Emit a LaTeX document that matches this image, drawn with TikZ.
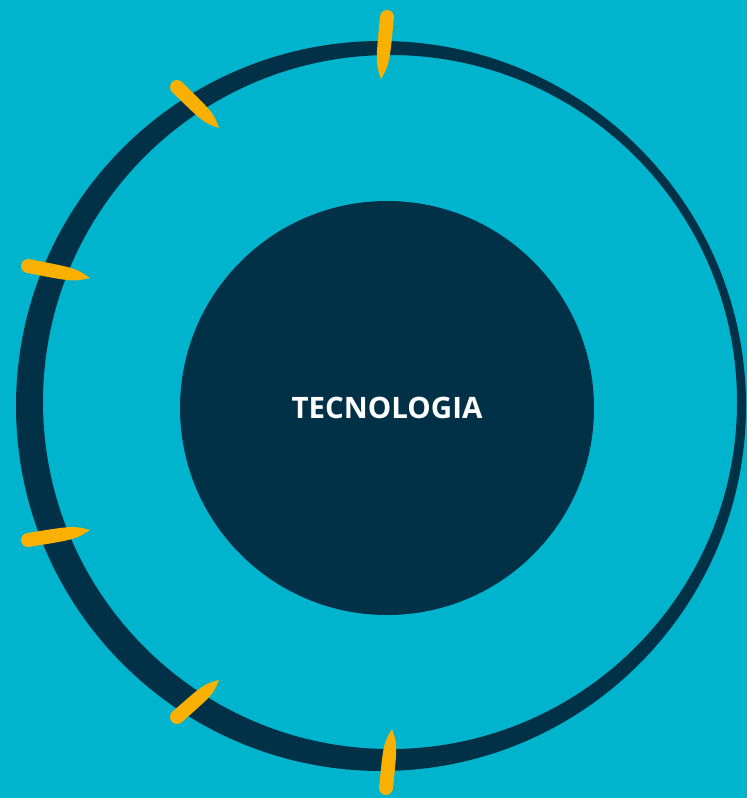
\documentclass[tikz,border=0pt]{standalone}
\usepackage{fontspec}
\newfontfamily\opensans{Open Sans}
\usetikzlibrary{calc}
\definecolor{sea}{RGB}{0,180,206}
\definecolor{ink}{RGB}{0,49,70}
\definecolor{sun}{RGB}{249,176,0}
\tikzset{
  core/.style = {circle, fill=ink, text=white, inner sep=0pt,
    minimum size=414pt, font=\opensans\bfseries\fontsize{29.5}{32}\selectfont},
  ring/.style = {fill=ink, even odd rule},
  brush/.style = {fill=sun}
}
\begin{document}
\begin{tikzpicture}[x=1pt,y=-1pt]
  \useasboundingbox (0,0) rectangle (747,798);
  \fill[sea] (0,0) rectangle (747,798);
  % outer ring, thick on the left and thin on the right
  \fill[ring] (381,406) circle (365pt) (390,402) circle (347pt);
  \node[core] (tech) at (387,408) {TECNOLOGIA};
  % yellow marks on the ring
  \foreach \tx/\ty/\px/\py in {387/17/381/79, 177/87/219/128, 28/266/90/278,
      28/540/90/530, 177/717/219/680, 386/788/392/729}{
    \fill[brush] (\tx,\ty) circle (7pt);
    \fill[brush] ($(\tx,\ty)!7pt!90:(\px,\py)$)
      .. controls ($(\tx,\ty)!0.75!(\px,\py)!7pt!90:(\px,\py)$) .. (\px,\py)
      .. controls ($(\tx,\ty)!0.75!(\px,\py)!7pt!-90:(\px,\py)$)
      .. ($(\tx,\ty)!7pt!-90:(\px,\py)$) -- cycle;
  }
\end{tikzpicture}
\end{document}
